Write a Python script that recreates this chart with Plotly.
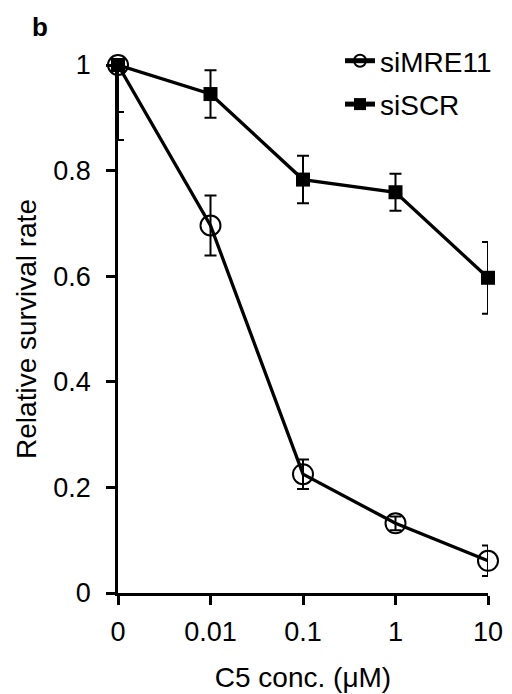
import plotly.graph_objects as go

conc_labels = ["0", "0.01", "0.1", "1", "10"]
x_pos = [0, 1, 2, 3, 4]

mre11_vals = [1.0, 0.696, 0.225, 0.132, 0.061]
mre11_err = [0.142, 0.057, 0.028, 0.013, 0.029]

scr_vals = [1.0, 0.945, 0.783, 0.759, 0.597]
scr_err = [0.089, 0.045, 0.045, 0.035, 0.068]

y_ticks = [0, 0.2, 0.4, 0.6, 0.8, 1]
y_ticktext = ["0", "0.2", "0.4", "0.6", "0.8", "1"]

font_family = "Liberation Sans, Arial, sans-serif"

# page body has an 8px margin; figure is sized to fill the 512x694 window from there
W, H = 504, 686
L, T, R, B = 110, 57, 24, 101
pw, ph = W - L - R, H - T - B

fig = go.Figure()
# error bars (clipped to plot area)
for vals, errs in [(mre11_vals, mre11_err), (scr_vals, scr_err)]:
    fig.add_trace(go.Scatter(
        x=x_pos, y=vals, mode="markers", showlegend=False, hoverinfo="skip",
        marker=dict(size=1, opacity=0),
        error_y=dict(type="data", array=errs, visible=True, color="black", thickness=2, width=6),
        cliponaxis=True,
    ))
fig.add_trace(go.Scatter(
    x=x_pos, y=mre11_vals, name="siMRE11", mode="lines+markers", legendgroup="a",
    line=dict(color="black", width=3.3),
    marker=dict(symbol="circle-open", size=20, color="black", line=dict(width=2, color="black")),
    cliponaxis=False,
))
fig.add_trace(go.Scatter(
    x=x_pos, y=scr_vals, name="siSCR", mode="lines+markers", legendgroup="b",
    line=dict(color="black", width=3.3),
    marker=dict(symbol="square", size=14, color="black"),
    cliponaxis=False,
))

fig.update_layout(
    width=W, height=H,
    margin=dict(l=L, r=R, t=T, b=B),
    paper_bgcolor="white", plot_bgcolor="white",
    font=dict(family=font_family, size=27, color="black"),
    showlegend=True,
    legend=dict(x=(340 - 8 - L) / pw, y=(ph + T - (36 - 8)) / ph, xanchor="left", yanchor="top",
                font=dict(size=28), bgcolor="rgba(0,0,0,0)", tracegroupgap=4,
                itemsizing="constant"),
    xaxis=dict(
        range=[0, 4], tickmode="array", tickvals=x_pos, ticktext=conc_labels,
        showline=True, linecolor="black", linewidth=2.5,
        ticks="outside", ticklen=9, tickwidth=2.5, tickcolor="black",
        showgrid=False, zeroline=False, tickfont=dict(size=27),
        ticklabelstandoff=4, automargin=False,
        title=dict(text="C5 conc. (μM)", font=dict(size=28), standoff=22),
    ),
    yaxis=dict(
        range=[0, 1], tickmode="array", tickvals=y_ticks, ticktext=y_ticktext,
        showline=True, linecolor="black", linewidth=2.5,
        ticks="outside", ticklen=9, tickwidth=2.5, tickcolor="black",
        showgrid=False, zeroline=False, tickfont=dict(size=27),
        ticklabelstandoff=10, automargin=False,
        title=dict(text="Relative survival rate", font=dict(size=28), standoff=9),
    ),
    annotations=[dict(text="<b>b</b>", xref="paper", yref="paper",
                      x=(40 - 8 - L) / pw, y=(ph + T - (27 - 8)) / ph,
                      xanchor="center", yanchor="middle",
                      showarrow=False, font=dict(size=26))],
)

fig.write_html("out.html")
